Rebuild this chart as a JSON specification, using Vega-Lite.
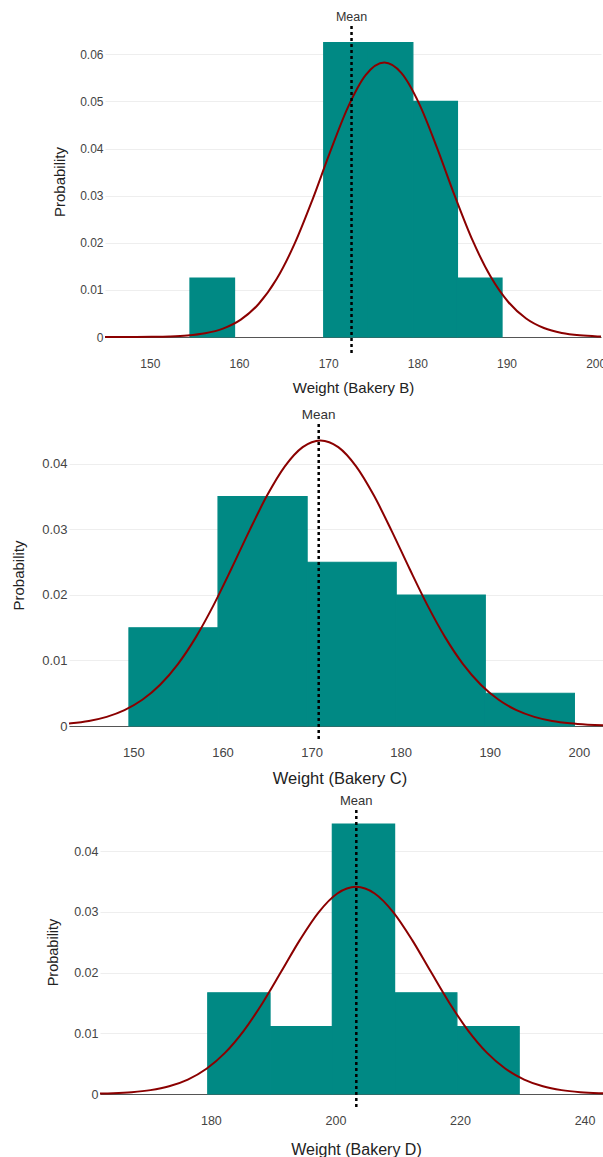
{
  "$schema": "https://vega.github.io/schema/vega-lite/v6.json",
  "background": "white",
  "padding": {"left": 0, "top": 10, "right": 0, "bottom": 0},
  "spacing": 0,
  "config": {
    "view": {"stroke": null},
    "font": "Liberation Sans",
    "axis": {
      "domain": false,
      "ticks": false,
      "labelColor": "#444",
      "titleColor": "#222",
      "titleFontWeight": "normal",
      "labelFont": "Liberation Sans",
      "titleFont": "Liberation Sans",
      "minExtent": 0
    },
    "axisX": {"grid": false, "domain": true, "domainColor": "#555", "domainWidth": 1, "labelFlush": false},
    "axisY": {"grid": true, "gridColor": "#eeeeee", "gridWidth": 1, "format": ".2~f"},
    "rect": {"color": "#008984", "stroke": "#008984", "strokeWidth": 1.2},
    "line": {"color": "#8B0000", "strokeWidth": 2, "interpolate": "monotone"},
    "rule": {"color": "black", "strokeWidth": 2.5, "strokeDash": [3, 3]},
    "text": {"color": "#333", "baseline": "alphabetic"}
  },
  "datasets": {
    "bakeryB_bins": [
      {"bin_start": 154.5, "bin_end": 159.5, "probability": 0.0125},
      {"bin_start": 169.5, "bin_end": 174.5, "probability": 0.0625},
      {"bin_start": 174.5, "bin_end": 179.5, "probability": 0.0625},
      {"bin_start": 179.5, "bin_end": 184.5, "probability": 0.05},
      {"bin_start": 184.5, "bin_end": 189.5, "probability": 0.0125}
    ],
    "bakeryB_curve": [
      {"weight": 144.97, "density": 0.000002},
      {"weight": 146.2, "density": 0.0000037},
      {"weight": 148.2, "density": 0.0000129},
      {"weight": 150.2, "density": 0.000041},
      {"weight": 152.2, "density": 0.000119},
      {"weight": 154.2, "density": 0.00032},
      {"weight": 156.2, "density": 0.000786},
      {"weight": 158.2, "density": 0.001775},
      {"weight": 160.2, "density": 0.00368},
      {"weight": 162.2, "density": 0.007008},
      {"weight": 164.2, "density": 0.01224},
      {"weight": 166.2, "density": 0.01964},
      {"weight": 168.2, "density": 0.02895},
      {"weight": 170.2, "density": 0.03918},
      {"weight": 172.2, "density": 0.04869},
      {"weight": 174.2, "density": 0.05557},
      {"weight": 176.3, "density": 0.05824},
      {"weight": 178.2, "density": 0.05604},
      {"weight": 180.2, "density": 0.04953},
      {"weight": 182.2, "density": 0.04019},
      {"weight": 184.2, "density": 0.02995},
      {"weight": 186.2, "density": 0.02049},
      {"weight": 188.2, "density": 0.01288},
      {"weight": 190.2, "density": 0.007432},
      {"weight": 192.2, "density": 0.003939},
      {"weight": 194.2, "density": 0.001917},
      {"weight": 196.2, "density": 0.000856},
      {"weight": 198.2, "density": 0.000351},
      {"weight": 200.2, "density": 0.000132},
      {"weight": 200.6, "density": 0.000108}
    ],
    "bakeryB_mean": [{"weight": 172.62, "label": "Mean"}],
    "bakeryC_bins": [
      {"bin_start": 149.5, "bin_end": 159.5, "probability": 0.015},
      {"bin_start": 159.5, "bin_end": 169.5, "probability": 0.035},
      {"bin_start": 169.5, "bin_end": 179.5, "probability": 0.025},
      {"bin_start": 179.5, "bin_end": 189.5, "probability": 0.02},
      {"bin_start": 189.5, "bin_end": 199.5, "probability": 0.005}
    ],
    "bakeryC_curve": [
      {"weight": 142.77, "density": 0.000372},
      {"weight": 143, "density": 0.000404},
      {"weight": 145, "density": 0.00077},
      {"weight": 147, "density": 0.001398},
      {"weight": 149, "density": 0.002422},
      {"weight": 151, "density": 0.004},
      {"weight": 153, "density": 0.006299},
      {"weight": 155, "density": 0.009452},
      {"weight": 157, "density": 0.01353},
      {"weight": 159, "density": 0.01845},
      {"weight": 161, "density": 0.024},
      {"weight": 163, "density": 0.02975},
      {"weight": 165, "density": 0.03517},
      {"weight": 167, "density": 0.03963},
      {"weight": 169, "density": 0.04257},
      {"weight": 171, "density": 0.0436},
      {"weight": 173, "density": 0.04257},
      {"weight": 175, "density": 0.03963},
      {"weight": 177, "density": 0.03517},
      {"weight": 179, "density": 0.02975},
      {"weight": 181, "density": 0.024},
      {"weight": 183, "density": 0.01845},
      {"weight": 185, "density": 0.01353},
      {"weight": 187, "density": 0.009452},
      {"weight": 189, "density": 0.006299},
      {"weight": 191, "density": 0.004},
      {"weight": 193, "density": 0.002422},
      {"weight": 195, "density": 0.001398},
      {"weight": 197, "density": 0.00077},
      {"weight": 199, "density": 0.000404},
      {"weight": 201, "density": 0.000202},
      {"weight": 203, "density": 0.0000962},
      {"weight": 203.5, "density": 0.0000794}
    ],
    "bakeryC_mean": [{"weight": 170.8, "label": "Mean"}],
    "bakeryD_bins": [
      {"bin_start": 179.5, "bin_end": 189.5, "probability": 0.016667},
      {"bin_start": 189.5, "bin_end": 199.5, "probability": 0.011111},
      {"bin_start": 199.5, "bin_end": 209.5, "probability": 0.044444},
      {"bin_start": 209.5, "bin_end": 219.5, "probability": 0.016667},
      {"bin_start": 219.5, "bin_end": 229.5, "probability": 0.011111}
    ],
    "bakeryD_curve": [
      {"weight": 162.2, "density": 0.000072},
      {"weight": 164.3, "density": 0.000132},
      {"weight": 167.3, "density": 0.0003},
      {"weight": 170.3, "density": 0.000639},
      {"weight": 173.3, "density": 0.001274},
      {"weight": 176.3, "density": 0.002379},
      {"weight": 179.3, "density": 0.004159},
      {"weight": 182.3, "density": 0.006811},
      {"weight": 185.3, "density": 0.01044},
      {"weight": 188.3, "density": 0.01499},
      {"weight": 191.3, "density": 0.02015},
      {"weight": 194.3, "density": 0.02537},
      {"weight": 197.3, "density": 0.0299},
      {"weight": 200.3, "density": 0.033},
      {"weight": 203.3, "density": 0.0341},
      {"weight": 206.3, "density": 0.033},
      {"weight": 209.3, "density": 0.0299},
      {"weight": 212.3, "density": 0.02537},
      {"weight": 215.3, "density": 0.02015},
      {"weight": 218.3, "density": 0.01499},
      {"weight": 221.3, "density": 0.01044},
      {"weight": 224.3, "density": 0.006811},
      {"weight": 227.3, "density": 0.004159},
      {"weight": 230.3, "density": 0.002379},
      {"weight": 233.3, "density": 0.001274},
      {"weight": 236.3, "density": 0.000639},
      {"weight": 239.3, "density": 0.0003},
      {"weight": 242.3, "density": 0.000132},
      {"weight": 244.4, "density": 0.000072}
    ],
    "bakeryD_mean": [{"weight": 203.35, "label": "Mean"}]
  },
  "vconcat": [
    {
      "spacing": 0,
      "hconcat": [
        {"width": 52, "height": 381.5, "data": {"values": []}, "mark": "point"},
        {
          "width": 496,
          "height": 311,
          "layer": [
            {
              "data": {"name": "bakeryB_bins"},
              "mark": "rect",
              "encoding": {
                "x": {"field": "bin_start", "type": "quantitative", "title": "Weight (Bakery B)",
                  "scale": {"domain": [144.97, 200.6], "nice": false, "zero": false},
                  "axis": {"values": [150, 160, 170, 180, 190, 200], "labelFontSize": 12, "labelPadding": 21, "titleFontSize": 15, "titlePadding": 11.5}},
                "x2": {"field": "bin_end"},
                "y": {"field": "probability", "type": "quantitative", "title": "Probability",
                  "scale": {"domain": [0, 0.066], "nice": false, "zero": false},
                  "axis": {"values": [0, 0.01, 0.02, 0.03, 0.04, 0.05, 0.06], "labelFontSize": 12, "labelPadding": 2, "titleFontSize": 15, "titlePadding": 12.3}},
                "y2": {"datum": 0}
              }
            },
            {
              "data": {"name": "bakeryB_curve"},
              "mark": "line",
              "encoding": {
                "x": {"field": "weight", "type": "quantitative", "title": "Weight (Bakery B)"},
                "y": {"field": "density", "type": "quantitative", "title": "Probability"}
              }
            },
            {
              "data": {"name": "bakeryB_mean"},
              "mark": "rule",
              "encoding": {
                "x": {"field": "weight", "type": "quantitative", "title": "Weight (Bakery B)"},
                "y": {"datum": 0.066, "type": "quantitative", "title": "Probability"},
                "y2": {"datum": -0.0035}
              }
            },
            {
              "data": {"name": "bakeryB_mean"},
              "mark": {"type": "text", "fontSize": 12.5, "dy": -5.5},
              "encoding": {
                "x": {"field": "weight", "type": "quantitative", "title": "Weight (Bakery B)"},
                "y": {"datum": 0.066, "type": "quantitative", "title": "Probability"},
                "text": {"field": "label"}
              }
            }
          ]
        }
      ]
    },
    {
      "spacing": 0,
      "hconcat": [
        {"width": 11, "height": 371, "data": {"values": []}, "mark": "point"},
        {
          "width": 541,
          "height": 302,
          "layer": [
            {
              "data": {"name": "bakeryC_bins"},
              "mark": "rect",
              "encoding": {
                "x": {"field": "bin_start", "type": "quantitative", "title": "Weight (Bakery C)",
                  "scale": {"domain": [142.77, 203.5], "nice": false, "zero": false},
                  "axis": {"values": [150, 160, 170, 180, 190, 200], "labelFontSize": 13, "labelPadding": 20.6, "titleFontSize": 16.5, "titlePadding": 11.2}},
                "x2": {"field": "bin_end"},
                "y": {"field": "probability", "type": "quantitative", "title": "Probability",
                  "scale": {"domain": [0, 0.0461], "nice": false, "zero": false},
                  "axis": {"values": [0, 0.01, 0.02, 0.03, 0.04], "labelFontSize": 13, "labelPadding": 2, "titleFontSize": 15, "titlePadding": 14.8}},
                "y2": {"datum": 0}
              }
            },
            {
              "data": {"name": "bakeryC_curve"},
              "mark": "line",
              "encoding": {
                "x": {"field": "weight", "type": "quantitative", "title": "Weight (Bakery C)"},
                "y": {"field": "density", "type": "quantitative", "title": "Probability"}
              }
            },
            {
              "data": {"name": "bakeryC_mean"},
              "mark": "rule",
              "encoding": {
                "x": {"field": "weight", "type": "quantitative", "title": "Weight (Bakery C)"},
                "y": {"datum": 0.0461, "type": "quantitative", "title": "Probability"},
                "y2": {"datum": -0.0023}
              }
            },
            {
              "data": {"name": "bakeryC_mean"},
              "mark": {"type": "text", "fontSize": 13.5, "dy": -5},
              "encoding": {
                "x": {"field": "weight", "type": "quantitative", "title": "Weight (Bakery C)"},
                "y": {"datum": 0.0461, "type": "quantitative", "title": "Probability"},
                "text": {"field": "label"}
              }
            }
          ]
        }
      ]
    },
    {
      "spacing": 0,
      "hconcat": [
        {"width": 45, "height": 1, "data": {"values": []}, "mark": "point"},
        {
          "width": 512,
          "height": 284,
          "layer": [
            {
              "data": {"name": "bakeryD_bins"},
              "mark": "rect",
              "encoding": {
                "x": {"field": "bin_start", "type": "quantitative", "title": "Weight (Bakery D)",
                  "scale": {"domain": [162.2, 244.4], "nice": false, "zero": false},
                  "axis": {"values": [180, 200, 220, 240], "labelFontSize": 12.5, "labelPadding": 20.3, "titleFontSize": 16, "titlePadding": 14.8}},
                "x2": {"field": "bin_end"},
                "y": {"field": "probability", "type": "quantitative", "title": "Probability",
                  "scale": {"domain": [0, 0.04675], "nice": false, "zero": false},
                  "axis": {"values": [0, 0.01, 0.02, 0.03, 0.04], "labelFontSize": 12.5, "labelPadding": 2, "titleFontSize": 14.5, "titlePadding": 13.4}},
                "y2": {"datum": 0}
              }
            },
            {
              "data": {"name": "bakeryD_curve"},
              "mark": "line",
              "encoding": {
                "x": {"field": "weight", "type": "quantitative", "title": "Weight (Bakery D)"},
                "y": {"field": "density", "type": "quantitative", "title": "Probability"}
              }
            },
            {
              "data": {"name": "bakeryD_mean"},
              "mark": "rule",
              "encoding": {
                "x": {"field": "weight", "type": "quantitative", "title": "Weight (Bakery D)"},
                "y": {"datum": 0.04675, "type": "quantitative", "title": "Probability"},
                "y2": {"datum": -0.00242}
              }
            },
            {
              "data": {"name": "bakeryD_mean"},
              "mark": {"type": "text", "fontSize": 13, "dy": -5},
              "encoding": {
                "x": {"field": "weight", "type": "quantitative", "title": "Weight (Bakery D)"},
                "y": {"datum": 0.04675, "type": "quantitative", "title": "Probability"},
                "text": {"field": "label"}
              }
            }
          ]
        }
      ]
    }
  ]
}
